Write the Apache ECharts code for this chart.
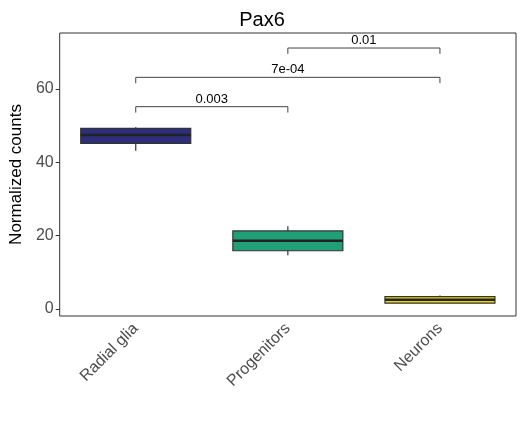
<!DOCTYPE html>
<html>
<head>
<meta charset="UTF-8">
<style>
  body { margin: 0; }
  #chart { width: 524px; height: 423px; }
</style>
</head>
<body>
<div id="chart"></div>
<script src="https://cdn.jsdelivr.net/npm/echarts@6/dist/echarts.min.js"></script>
<script>
var categories = ['Radial glia', 'Progenitors', 'Neurons'];
// [min, q1, median, q3, max]
var boxValues = [
    [43.2, 45.2, 47.5, 49.3, 49.6],
    [14.7, 15.9, 18.6, 21.3, 22.6],
    [1.5, 1.6, 2.5, 3.4, 3.7]
];
var boxColors = ['#2e2f7c', '#21a077', '#ecd90c'];
// [from category, to category, bracket height, p-value]
var brackets = [
    [0, 1, 55.2, '0.003'],
    [0, 2, 63.2, '7e-04'],
    [1, 2, 71.2, '0.01']
];
var yTicks = [0, 20, 40, 60];

var chart = echarts.init(document.getElementById('chart'));
chart.setOption({
    animation: false,
    title: {
        text: 'Pax6', left: 'center', top: 5,
        textStyle: { fontFamily: 'Liberation Sans', fontSize: 20, fontWeight: 'normal', color: '#000' }
    },
    grid: { left: 53, right: 8, top: 33, bottom: 107, show: true, borderColor: '#333', borderWidth: 1 },
    xAxis: {
        type: 'category', data: categories,
        axisLine: { show: false },
        axisTick: { alignWithLabel: true, length: 4, lineStyle: { color: '#333' } },
        axisLabel: { rotate: 45, fontFamily: 'Liberation Sans', fontSize: 16, color: '#4d4d4d', margin: 10 }
    },
    yAxis: {
        type: 'value', min: -1.9, max: 75.3,
        name: 'Normalized counts', nameLocation: 'middle', nameGap: 33,
        nameTextStyle: { fontFamily: 'Liberation Sans', fontSize: 17, color: '#000' },
        splitLine: { show: false },
        axisLine: { show: false },
        axisTick: { show: true, length: 4, customValues: yTicks, lineStyle: { color: '#333' } },
        axisLabel: { customValues: yTicks, fontFamily: 'Liberation Sans', fontSize: 16, color: '#4d4d4d', margin: 6 }
    },
    series: [{
        type: 'custom',
        data: boxValues.map(function (v, i) { return [i].concat(v); }),
        renderItem: function (params, api) {
            var i = api.value(0);
            var half = 55;
            var p = [1, 2, 3, 4, 5].map(function (k) { return api.coord([i, api.value(k)]); });
            var x = p[0][0];
            var line = { stroke: '#333', lineWidth: 1.2 };
            return {
                type: 'group',
                children: [{
                    type: 'line', shape: { x1: x, y1: p[0][1], x2: x, y2: p[1][1] }, style: line
                }, {
                    type: 'line', shape: { x1: x, y1: p[3][1], x2: x, y2: p[4][1] }, style: line
                }, {
                    type: 'rect',
                    shape: { x: x - half, y: p[3][1], width: half * 2, height: p[1][1] - p[3][1] },
                    style: { fill: boxColors[params.dataIndex], stroke: '#333', lineWidth: 1.2 }
                }, {
                    type: 'line', shape: { x1: x - half, y1: p[2][1], x2: x + half, y2: p[2][1] },
                    style: { stroke: '#222', lineWidth: 2.5 }
                }]
            };
        }
    }, {
        type: 'custom',
        data: brackets,
        renderItem: function (params, api) {
            var a = api.coord([api.value(0), api.value(2)]);
            var b = api.coord([api.value(1), api.value(2)]);
            var low = api.coord([api.value(0), api.value(2) - 1.6])[1];
            var d = brackets[params.dataIndex];
            return {
                type: 'group',
                children: [{
                    type: 'polyline',
                    shape: { points: [[a[0], low], a, b, [b[0], low]] },
                    style: { stroke: '#444', lineWidth: 1, fill: null }
                }, {
                    type: 'text',
                    style: {
                        x: (a[0] + b[0]) / 2, y: a[1] - 1, text: d[3],
                        textAlign: 'center', textVerticalAlign: 'bottom',
                        font: '13px "Liberation Sans"', fill: '#000'
                    }
                }]
            };
        }
    }]
});
</script>
</body>
</html>
